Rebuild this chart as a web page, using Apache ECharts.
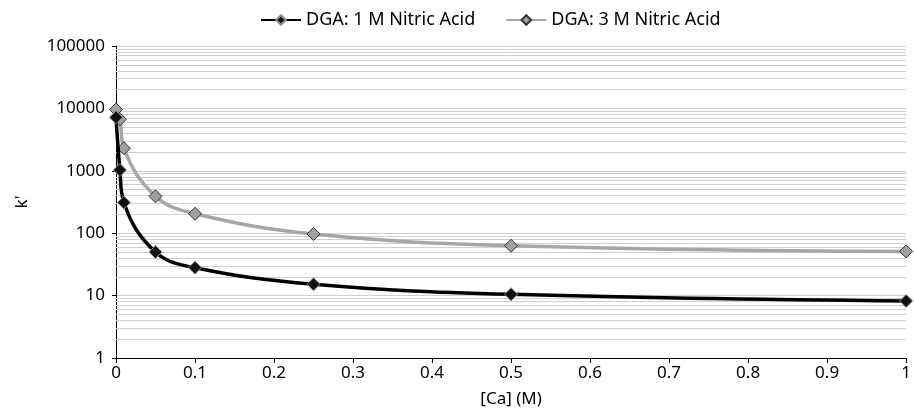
<!DOCTYPE html>
<html>
<head>
<meta charset="utf-8">
<script src="https://cdn.jsdelivr.net/npm/echarts@6/dist/echarts.min.js"></script>
<style>
  html, body { margin: 0; padding: 0; background: #fff; }
  #chart { width: 914px; height: 416px; }
</style>
</head>
<body>
<div id="chart"></div>
<script>
const calcium = [0, 0.005, 0.01, 0.05, 0.1, 0.25, 0.5, 1]
const nitric1M = [7200, 1030, 310, 50, 28, 15.2, 10.5, 8.2]
const nitric3M = [9600, 6700, 2300, 390, 205, 97, 63, 51]
const yTicks = [1, 10, 100, 1000, 10000, 100000]

// log-spaced minor gridlines (2..9 in each decade)
const minorLines = []
for (let d = 0; d < yTicks.length - 1; d++) {
  for (let m = 2; m <= 9; m++) minorLines.push({ yAxis: m * yTicks[d] })
}

const font = 'Noto Sans'
const pairs = arr => calcium.map((x, i) => [x, arr[i]])

const chart = echarts.init(document.getElementById('chart'))
chart.setOption({
  animation: false,
  textStyle: { fontFamily: font },
  legend: {
    top: 6,
    left: 255,
    itemWidth: 40,
    itemHeight: 12,
    itemGap: 30,
    textStyle: { fontSize: 18, color: '#000', fontFamily: font },
    data: ['DGA: 1 M Nitric Acid', 'DGA: 3 M Nitric Acid']
  },
  grid: { left: 116, right: 6, top: 46, bottom: 58 },
  xAxis: {
    type: 'value',
    min: 0,
    max: 1,
    interval: 0.1,
    name: '[Ca] (M)',
    nameLocation: 'middle',
    nameGap: 33,
    nameTextStyle: { fontSize: 17, color: '#000' },
    axisLine: { lineStyle: { color: '#000', width: 1 } },
    axisTick: { show: true, length: 5, lineStyle: { color: '#000' } },
    axisLabel: { fontSize: 17, color: '#000', margin: 7 },
    splitLine: { show: false }
  },
  yAxis: {
    type: 'log',
    logBase: 10,
    min: 1,
    max: 100000,
    name: "k'",
    nameLocation: 'middle',
    nameGap: 85,
    nameTextStyle: { fontSize: 17, color: '#000' },
    axisLine: { show: true, lineStyle: { color: '#000', width: 1 } },
    axisTick: { show: true, length: 4, inside: false, lineStyle: { color: '#000' } },
    axisLabel: { fontSize: 17, color: '#000', margin: 11, formatter: v => String(v) },
    splitLine: { show: true, lineStyle: { color: '#d0d0d0', width: 1 } }
  },
  series: [
    {
      name: 'DGA: 1 M Nitric Acid',
      type: 'line',
      data: pairs(nitric1M),
      smooth: 0.4,
      symbol: 'diamond',
      symbolSize: 13,
      lineStyle: { color: '#000', width: 3.5 },
      itemStyle: { color: '#111', borderColor: '#8a8a8a', borderWidth: 1 },
      z: 3,
      markLine: {
        silent: true,
        symbol: 'none',
        label: { show: false },
        lineStyle: { color: '#d0d0d0', width: 1, type: 'solid' },
        data: minorLines,
        z: 1
      }
    },
    {
      name: 'DGA: 3 M Nitric Acid',
      type: 'line',
      data: pairs(nitric3M),
      smooth: 0.4,
      symbol: 'diamond',
      symbolSize: 13,
      lineStyle: { color: '#a6a6a6', width: 3.5 },
      itemStyle: { color: '#a0a0a0', borderColor: '#333', borderWidth: 1 },
      z: 2
    }
  ]
})
</script>
</body>
</html>
